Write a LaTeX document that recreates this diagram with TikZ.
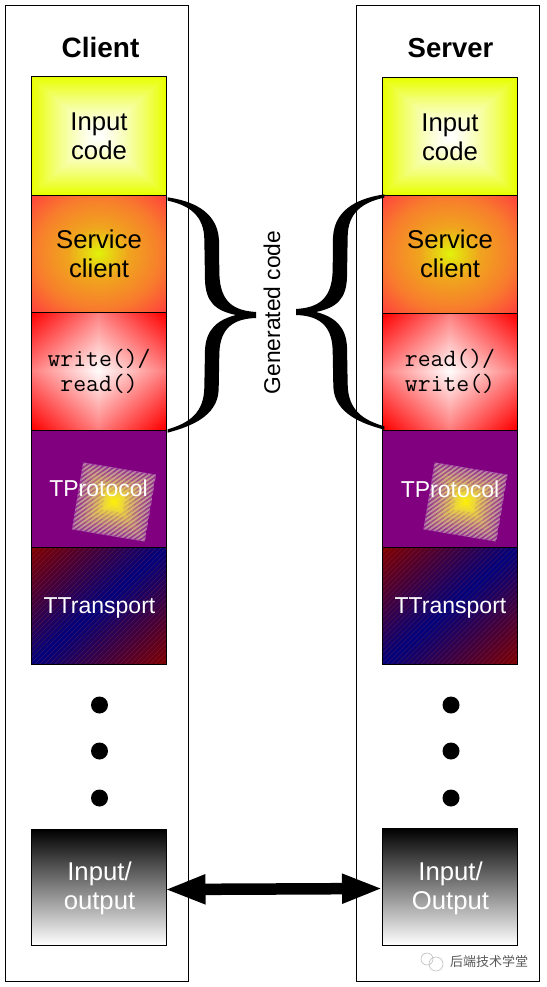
\documentclass[tikz,border=0pt]{standalone}
\usepackage{fontspec}
\setmainfont{Liberation Sans}
\newfontfamily\cjkfont{Noto Sans CJK SC}
\usetikzlibrary{arrows.meta,calc}
\definecolor{inedge}{RGB}{232,255,0}
\definecolor{svA}{RGB}{255,65,60}
\definecolor{svB}{RGB}{248,125,45}
\definecolor{svM}{RGB}{240,165,30}
\definecolor{svC}{RGB}{225,245,10}
\definecolor{rwedge}{RGB}{255,0,0}
\definecolor{proto}{RGB}{128,0,128}
\definecolor{protoedge}{RGB}{180,115,170}
\definecolor{trred}{RGB}{128,0,0}
\definecolor{trblue}{RGB}{0,0,125}
\definecolor{trline}{RGB}{170,70,70}
\tikzset{
  outerbox/.style={draw=black,line width=1pt,fill=white},
  layerbox/.style 2 args={draw=black,line width=1pt,minimum width=#1,minimum height=#2,inner sep=0pt,outer sep=0pt},
  lbl/.style={font=\fontsize{25.7}{28.5}\selectfont,align=center,inner sep=0pt,text=black},
  wlbl/.style={font=\fontsize{25.7}{29.3}\selectfont,align=center,inner sep=0pt,text=white},
  tlbl/.style={font=\fontsize{23}{28}\selectfont,inner sep=0pt,text=white,anchor=base},
  mono/.style={font=\fontsize{25}{25.3}\selectfont\ttfamily,align=center,inner sep=0pt},
  title/.style={font=\fontsize{#1}{30}\selectfont\bfseries,inner sep=0pt,anchor=base},
  dotmark/.style={circle,fill=black,minimum size=17pt,inner sep=0pt},
}
\newcommand{\gradInput}[4]{%
  \begin{scope}
    \clip (#1,#2) rectangle ++(#3,#4);
    \foreach \i in {0,...,40}{
      \pgfmathsetmacro\pp{100*(1-(1-\i/40)^1.4)}
      \pgfmathsetmacro\ss{1-\i/40}
      \fill[white!\pp!inedge] ({#1+#3/2-#3/2*\ss},{#2+#4/2-#4/2*\ss}) rectangle ({#1+#3/2+#3/2*\ss},{#2+#4/2+#4/2*\ss});
    }
  \end{scope}}
\newcommand{\ellRun}[8]{%
  \foreach \i in {0,...,25}{
    \pgfmathsetmacro\pp{100*\i/25}
    \pgfmathsetmacro\ss{#7+(#8-#7)*\i/25}
    \fill[#6!\pp!#5] ({#1+#3/2},{#2+#4/2}) ellipse ({#3/2*\ss} and {#4/2*\ss});
  }}
\newcommand{\gradService}[4]{%
  \begin{scope}
    \clip (#1,#2) rectangle ++(#3,#4);
    \fill[svA] (#1,#2) rectangle ++(#3,#4);
    \ellRun{#1}{#2}{#3}{#4}{svA}{svB}{1.42}{.95}
    \ellRun{#1}{#2}{#3}{#4}{svB}{svM}{.95}{.45}
    \ellRun{#1}{#2}{#3}{#4}{svM}{svC}{.45}{0}
  \end{scope}}
\newcommand{\gradRW}[4]{%
  \begin{scope}
    \clip (#1,#2) rectangle ++(#3,#4);
    \foreach \i in {0,...,50}{
      \pgfmathsetmacro\pp{100*\i/50}
      \pgfmathsetmacro\ss{2-2*\i/50}
      \pgfmathsetmacro\cx{#1+#3/2}
      \pgfmathsetmacro\cy{#2+#4/2}
      \fill[white!\pp!rwedge] (\cx-#3/2*\ss,\cy) -- (\cx,\cy-#4/2*\ss) -- (\cx+#3/2*\ss,\cy) -- (\cx,\cy+#4/2*\ss) -- cycle;
    }
  \end{scope}}
% rotated square: concentric bands, each with its own strength of purple hatching
\newcommand{\gradProto}[4]{%
  \fill[proto] (#1,#2) rectangle ++(#3,#4);
  \begin{scope}[shift={(#1+83,#2+72)},rotate=-9.5]
    \clip (-37,-34) rectangle (37,34);
    \foreach \i in {0,...,24}{
      \pgfmathsetmacro\pp{100*\i/24}
      \pgfmathsetmacro\ss{1-\i/24}
      \fill[yellow!\pp!protoedge] ({-37*\ss},{-34*\ss}) rectangle ({37*\ss},{34*\ss});
    }
    \foreach \ra/\rb/\op in {1/.85/.6,.85/.7/.5,.7/.55/.38,.55/.4/.26,.4/.28/.14}{
      \begin{scope}[even odd rule]
        \clip ({-37*\ra},{-34*\ra}) rectangle ({37*\ra},{34*\ra}) ({-37*\rb},{-34*\rb}) rectangle ({37*\rb},{34*\rb});
        \foreach \d in {-80,-75,...,80}{
          \draw[proto,opacity=\op,line width=1.6pt] (\d-40,40) -- (\d+40,-40);
        }
      \end{scope}
    }
  \end{scope}}
\newcommand{\gradTrans}[4]{%
  \begin{scope}
    \clip (#1,#2) rectangle ++(#3,#4);
    \foreach \i in {0,...,60}{
      \pgfmathsetmacro\sv{\i/30}
      \pgfmathsetmacro\pp{100*(1-abs(\i/30-1))}
      \fill[trblue!\pp!trred] ({#1+#3*\sv},#2) -- ({#1+3*#3},#2) -- ({#1+3*#3},{#2+3*#4}) -- (#1,{#2+3*#4}) -- (#1,{#2+#4*\sv}) -- cycle;
    }
    \foreach \d in {-140,-135,...,140}{
      \draw[trline,opacity=.3,line width=.6pt] ({#1+#3/2+\d-70},{#2+#4/2+70}) -- ({#1+#3/2+\d+70},{#2+#4/2-70});
    }
  \end{scope}}
\newcommand{\gradIO}[4]{%
  \shade[top color=black,bottom color=white] (#1,#2) rectangle ++(#3,#4);}
\newcommand{\bracepath}{%
  (23,22) .. controls (90,32) and (172,60) .. (177,150)
  -- (178,250) .. controls (180,340) and (225,362) .. (288,366)
  -- (288,384) .. controls (225,386) and (180,410) .. (178,490)
  -- (176,600) .. controls (172,680) and (90,710) .. (23,728)
  -- (23,718) .. controls (85,700) and (133,670) .. (133,590)
  -- (135,480) .. controls (138,420) and (170,390) .. (228,375)
  .. controls (165,362) and (137,335) .. (135,270)
  -- (133,150) .. controls (133,75) and (85,45) .. (23,32) -- cycle}
\begin{document}
\begin{tikzpicture}[x=1pt,y=-1pt]
\useasboundingbox (0,0) rectangle (546,987);
\fill[white] (0,0) rectangle (546,987);
\draw[outerbox] (5.5,5.5) rectangle (188.5,981);
\draw[outerbox] (356.5,5.5) rectangle (539.5,981);

\node[title=28] (ctitle) at (100.5,58) {Client};
\node[title=27.5] (stitle) at (450.5,58) {Server};

% client layers
\gradInput{31}{77}{135}{118}
\gradService{31}{195}{135}{117}
\gradRW{31}{312}{135}{118}
\gradProto{31}{430}{135}{117}
\gradTrans{31}{547}{135}{117}
\gradIO{31}{829}{135}{116}
\node[layerbox={135pt}{118pt}] (c1) at (98.5,136) {};
\node[layerbox={135pt}{117pt}] (c2) at (98.5,253.5) {};
\node[layerbox={135pt}{118pt}] (c3) at (98.5,371) {};
\node[layerbox={135pt}{117pt}] (c4) at (98.5,488.5) {};
\node[layerbox={135pt}{117pt}] (c5) at (98.5,605.5) {};
\node[layerbox={135pt}{116pt}] (c6) at (98.5,887) {};
% server layers
\gradInput{382.5}{78}{135}{117}
\gradService{382.5}{195}{135}{118}
\gradRW{382.5}{313}{135}{117}
\gradProto{382.5}{430}{135}{117}
\gradTrans{382.5}{547}{135}{117}
\gradIO{382.5}{828}{135}{117}
\node[layerbox={135pt}{117pt}] (s1) at (450,136.5) {};
\node[layerbox={135pt}{118pt}] (s2) at (450,254) {};
\node[layerbox={135pt}{117pt}] (s3) at (450,371.5) {};
\node[layerbox={135pt}{117pt}] (s4) at (450,488.5) {};
\node[layerbox={135pt}{117pt}] (s5) at (450,605.5) {};
\node[layerbox={135pt}{117pt}] (s6) at (450,886.5) {};

% labels
\node[lbl] (cl1) at (99,136.5) {Input\\code};
\node[lbl] (cl2) at (99,254) {Service\\client};
\node[mono] (cl3) at (99,371.5) {write()/\\read()};
\node[tlbl] (cl4) at (98.5,496) {TProtocol};
\node[tlbl] (cl5) at (99.5,613) {TTransport};
\node[wlbl] (cl6) at (99.5,888.5) {Input/\\output};
\node[lbl] (sl1) at (450,137.5) {Input\\code};
\node[lbl] (sl2) at (450,254) {Service\\client};
\node[mono] (sl3) at (450,371.5) {read()/\\write()};
\node[tlbl] (sl4) at (450,497) {TProtocol};
\node[tlbl] (sl5) at (450.5,613) {TTransport};
\node[wlbl] (sl6) at (450.5,888.5) {Input/\\Output};

% dots
\foreach \n/\y in {a/705,b/751,c/798}{
  \node[dotmark] (cd\n) at (99.5,\y) {};
  \node[dotmark] (sd\n) at (451,\y) {};
}

% braces
\begin{scope}[shift={(160,190)},x=.33333pt,y=-.33333pt]
  \fill[black] \bracepath;
\end{scope}
\begin{scope}[shift={(392,187)},x=-.33333pt,y=-.33333pt]
  \fill[black] \bracepath;
\end{scope}

\node[font=\fontsize{22.8}{24}\selectfont,rotate=90,anchor=base,inner sep=0pt] (gen) at (280,312.5) {Generated code};

% arrow
\draw[line width=11.5pt,{Triangle[length=41pt,width=27pt]}-{Triangle[length=41pt,width=27pt]}] ([xshift=-1.5pt,yshift=-2.5pt]c6.east) -- ([xshift=.5pt,yshift=-2pt]s6.west);

% watermark
\begin{scope}[gray!50,line width=.6pt]
  \draw (427,959) circle (6);
  \draw (436,964) circle (7);
\end{scope}
\node[font=\cjkfont\fontsize{13}{14}\selectfont,text=black!65,inner sep=0pt] (wm) at (489,962) {后端技术学堂};
\end{tikzpicture}
\end{document}
